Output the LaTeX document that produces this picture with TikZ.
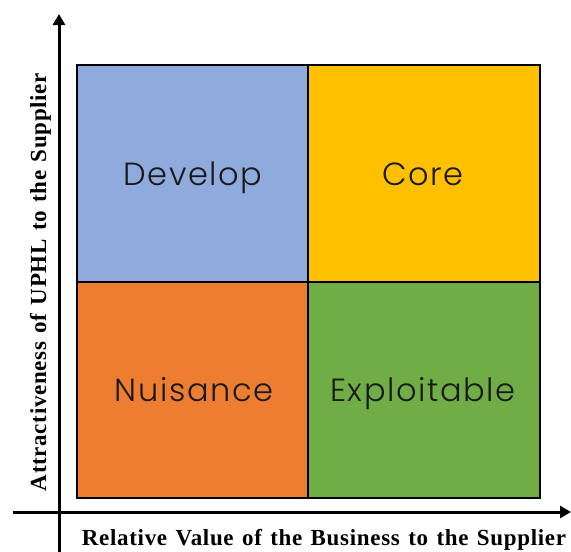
\documentclass[tikz,border=0pt]{standalone}
\usepackage{fontspec}
\setmainfont{Liberation Serif}
\newfontfamily\axisfont{Liberation Serif}[LetterSpace=3,WordSpace=1.3]
\newfontfamily\cellfont{Poppins}[UprightFont=* Light,LetterSpace=5]
\usetikzlibrary{arrows.meta}
\definecolor{devblue}{HTML}{8FAADC}
\definecolor{coregold}{HTML}{FFC000}
\definecolor{nuisorange}{HTML}{ED7D31}
\definecolor{exgreen}{HTML}{70AD47}
\begin{document}
\begin{tikzpicture}[x=1pt,y=-1pt,
  cell/.style={draw=black,line width=2pt},
  celltext/.style={font=\cellfont\fontsize{32}{35}\selectfont,text=black!90,anchor=base},
  axis/.style={line width=3pt,-{Triangle[length=11pt,width=12pt]}},
  axislabel/.style={font=\axisfont\bfseries\fontsize{23}{25}\selectfont}]
\useasboundingbox (0,0) rectangle (571,552);
% quadrants
\fill[devblue]    (77,65)  rectangle (308,282);
\fill[coregold]   (308,65) rectangle (540,282);
\fill[nuisorange] (77,282) rectangle (308,498);
\fill[exgreen]    (308,282) rectangle (540,498);
\draw[cell] (77,65) rectangle (540,498);
\draw[cell] (308,65) -- (308,498);
\draw[cell] (77,282) -- (540,282);
% quadrant labels
\node[celltext] (develop) at (193,185) {Develop};
\node[celltext] (core) at (423,185) {Core};
\node[celltext] (nuisance) at (194,401) {Nuisance};
\node[celltext] (exploit) at (423,401) {Exploitable};
% axes
\coordinate (ybot) at (59,552);
\coordinate (ytop) at (59,14);
\coordinate (xleft) at (13,512);
\coordinate (xright) at (571,512);
\draw[axis] (ybot) -- (ytop);
\draw[axis] (xleft) -- (xright);
\node[axislabel,anchor=base] (xlab) at (324,545) {Relative Value of the Business to the Supplier};
\node[axislabel,anchor=base,rotate=90] (ylab) at (46,282) {Attractiveness of UPHL to the Supplier};
\end{tikzpicture}
\end{document}
